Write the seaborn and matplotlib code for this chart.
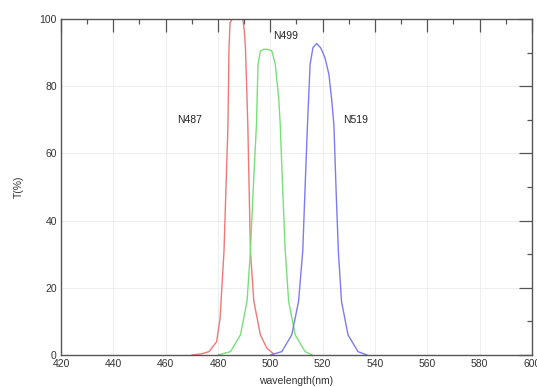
import numpy as np
import pandas as pd
import matplotlib
matplotlib.use("Agg")
import matplotlib.pyplot as plt
from matplotlib.ticker import MultipleLocator
import seaborn as sns

# filter transmission curves
wl_487 = [470, 473.4, 476.6, 479.5, 480.8, 482.3, 483.8, 484.2, 484.6, 485.5, 487.5, 489.5, 490.0, 490.5, 491.4, 492.4, 493.7, 496.2, 498.7, 501.3]
t_487 = [0, 0.3, 1, 4, 11, 31, 68, 91, 99, 100, 100, 100, 97, 91.5, 68.5, 31, 16, 6, 2, 0.3]

wl_499 = [480, 484.8, 488.6, 491.1, 492.4, 493.5, 494.7, 495.3, 496.2, 497.5, 499, 500.6, 501.9, 503.2, 503.8, 504.7, 505.7, 507, 509.5, 513.3, 516]
t_499 = [0, 1, 6, 16, 31, 50, 68.5, 86.5, 90.5, 91, 91, 90.5, 86.5, 76.5, 68.5, 50, 31, 16, 6, 1, 0]

wl_519 = [500, 504.4, 508.2, 510.8, 512.4, 513.3, 514.2, 515.2, 516.3, 517.7, 519.2, 520.9, 522.4, 523.4, 524.3, 525.1, 526, 527.2, 529.7, 533.5, 537]
t_519 = [0, 1, 6, 16, 31, 50, 68.5, 86.5, 91.5, 92.7, 91.5, 88.5, 83.5, 76.5, 68.5, 50, 31, 16, 6, 1, 0]

labels = ["N487", "N499", "N519"]
label_x = [464.5, 501, 528]
label_y = [70, 95, 70]

sns.set_style("white")
plt.rcParams['font.family'] = ['Liberation Sans', 'DejaVu Sans']

fig = plt.figure(figsize=(5.37, 3.87), dpi=100)
ax = fig.add_axes([0.1136, 0.0827, 0.877, 0.868])

curves = [(wl_487, t_487, '#f07878'), (wl_499, t_499, '#78e078'), (wl_519, t_519, '#7c7cf0')]
for wl, t, c in curves:
    df = pd.DataFrame({'wl': wl, 't': t})
    sns.lineplot(data=df, x='wl', y='t', ax=ax, color=c, linewidth=1.0, sort=False)

for lab, x, y in zip(labels, label_x, label_y):
    ax.text(x, y, lab, fontsize=7.5, color='#222222', va='center', ha='left')

ax.set_xlim(420, 600)
ax.set_ylim(0, 100)
ax.xaxis.set_major_locator(MultipleLocator(20))
ax.xaxis.set_minor_locator(MultipleLocator(10))
ax.yaxis.set_major_locator(MultipleLocator(20))
ax.yaxis.set_minor_locator(MultipleLocator(10))
ax.grid(True, which='major', color='#ebebeb', linewidth=0.6)
ax.set_axisbelow(True)

ax.tick_params(which='both', direction='in', top=True, right=True, color='#555555',
               labelsize=7.5, labelcolor='#333333', width=0.9)
ax.tick_params(which='major', length=9.5, pad=3)
ax.tick_params(which='minor', length=3.6)
for s in ax.spines.values():
    s.set_color('#555555')
    s.set_linewidth(1.0)

ax.set_xlabel('wavelength(nm)', fontsize=7.5, color='#333333', labelpad=5)
ax.set_ylabel('T(%)', fontsize=7.5, color='#333333', labelpad=11)

fig.savefig('out.png', dpi=100)
